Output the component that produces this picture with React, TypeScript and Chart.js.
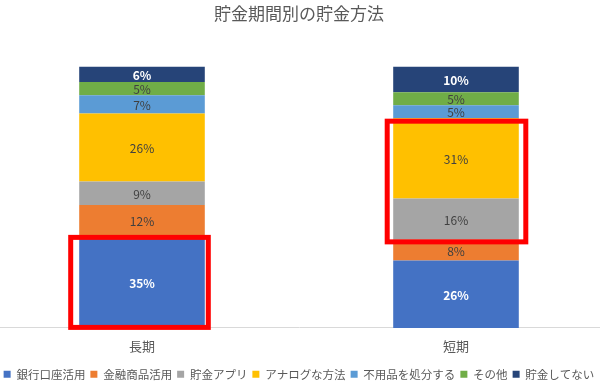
import React, { useEffect, useRef } from "react";
import { Chart, registerables } from "chart.js";

Chart.register(...registerables);

const title = "貯金期間別の貯金方法";
const categories = ["長期", "短期"];
const seriesNames = ["銀行口座活用", "金融商品活用", "貯金アプリ", "アナログな方法", "不用品を処分する", "その他", "貯金してない"];
const bankAccount = [35, 26];
const financialProducts = [12, 8];
const savingsApp = [9, 16];
const analogMethod = [26, 31];
const sellUnused = [7, 5];
const otherMethod = [5, 5];
const noSavings = [6, 10];

const seriesValues = [bankAccount, financialProducts, savingsApp, analogMethod, sellUnused, otherMethod, noSavings];
const colors = ["#4472C4", "#ED7D31", "#A5A5A5", "#FFC000", "#5B9BD5", "#70AD47", "#264478"];
const whiteLabel = [true, false, false, false, false, false, true];

// highlight boxes: category index, dataset range, offsets (style)
const highlights = [
  { cat: 0, from: 0, to: 0, l: 8.5, r: 3.5, t: 1, b: -0.5 },
  { cat: 1, from: 2, to: 3, l: 6, r: 7, t: 3, b: 2 },
];

const FONT = "'Noto Sans CJK JP', 'Noto Sans', sans-serif";

export default function App() {
  const ref = useRef<HTMLCanvasElement>(null);
  useEffect(() => {
    document.body.style.margin = "0";
    document.body.style.overflow = "hidden";
    const totals = categories.map((_, i) => seriesValues.reduce((s, arr) => s + arr[i], 0));
    const labelPlugin = {
      id: "segLabels",
      afterDatasetsDraw(chart: any) {
        const ctx = chart.ctx;
        ctx.save();
        ctx.textAlign = "center";
        ctx.textBaseline = "middle";
        chart.data.datasets.forEach((ds: any, di: number) => {
          const meta = chart.getDatasetMeta(di);
          meta.data.forEach((el: any, i: number) => {
            const v = seriesValues[di][i];
            ctx.fillStyle = whiteLabel[di] ? "#FFFFFF" : "#404040";
            ctx.font = `${whiteLabel[di] ? "bold " : ""}12px ${FONT}`;
            ctx.fillText(v + "%", el.x, (el.y + el.base) / 2 + 1);
          });
        });
        // highlight boxes
        ctx.strokeStyle = "#FF0000";
        ctx.lineWidth = 5;
        highlights.forEach((h) => {
          const bottomEl: any = chart.getDatasetMeta(h.from).data[h.cat];
          const topEl: any = chart.getDatasetMeta(h.to).data[h.cat];
          const left = bottomEl.x - bottomEl.width / 2 - h.l;
          const right = bottomEl.x + bottomEl.width / 2 + h.r;
          const top = topEl.y + h.t;
          const bottom = bottomEl.base + h.b;
          ctx.strokeRect(left, top, right - left, bottom - top);
        });
        ctx.restore();
      },
    };
    const chart = new Chart(ref.current!, {
      type: "bar",
      data: {
        labels: categories,
        datasets: seriesNames.map((name, di) => ({
          label: name,
          data: seriesValues[di].map((v, i) => (v / totals[i]) * 100),
          backgroundColor: colors[di],
          borderWidth: 0,
          barPercentage: 0.4,
          categoryPercentage: 1,
        })),
      },
      options: {
        animation: false,
        responsive: false,
        maintainAspectRatio: false,
        layout: { padding: { left: 0, right: 0, top: 0, bottom: 0 } },
        plugins: {
          title: {
            display: true,
            text: title,
            color: "#595959",
            font: { family: FONT, size: 17, weight: "normal" },
            padding: { top: 3, bottom: 43 },
          },
          legend: {
            position: "bottom",
            labels: {
              color: "#595959",
              font: { family: FONT, size: 11.5 },
              boxWidth: 7,
              boxHeight: 7,
              padding: 5,
            },
          },
          tooltip: { enabled: false },
        },
        scales: {
          x: {
            stacked: true,
            grid: { display: false, drawTicks: false },
            border: { display: true, color: "#D9D9D9", width: 1 },
            ticks: { color: "#595959", font: { family: FONT, size: 13 }, padding: 10 },
          },
          y: {
            stacked: true,
            display: false,
            min: 0,
            max: 100,
          },
        },
      },
      plugins: [labelPlugin],
    });
    return () => chart.destroy();
  }, []);
  return (
    <div style={{ position: "relative", width: 628, height: 390, marginLeft: -15 }}>
      <canvas ref={ref} width={628} height={390} style={{ width: 628, height: 390 }} />
    </div>
  );
}
